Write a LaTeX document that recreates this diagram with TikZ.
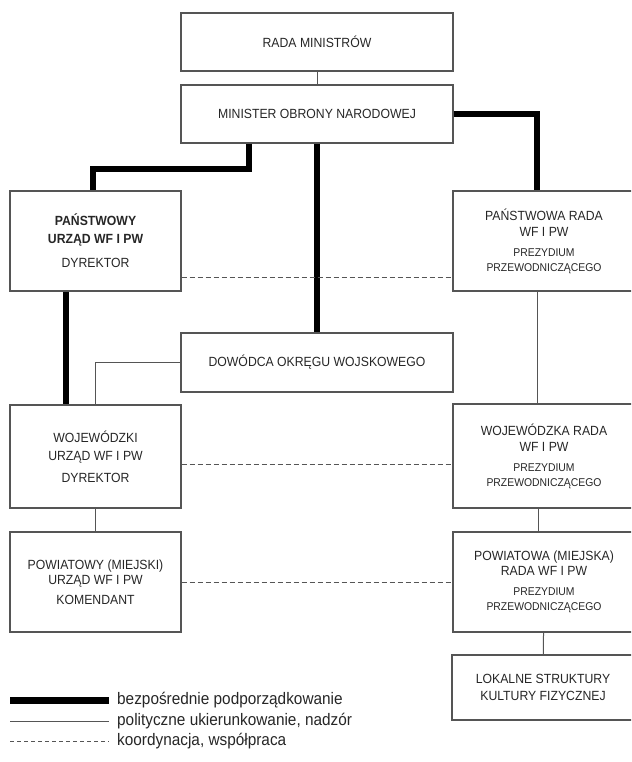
\documentclass[tikz,border=0pt]{standalone}
\usepackage{fontspec}
\setmainfont{Liberation Sans}[FakeStretch=0.92]
\usetikzlibrary{calc}
\definecolor{inkgray}{HTML}{262626}
\definecolor{linegray}{HTML}{555555}
\tikzset{
	unit/.style={draw=linegray, line width=1.1pt, text=inkgray, inner sep=0pt, align=center,
		font=\fontsize{13.3}{16}\selectfont},
	legtext/.style={anchor=west, text=inkgray, inner sep=0pt, font=\fontsize{16.7}{18}\selectfont},
	direct/.style={line width=6pt, black},
	supervise/.style={line width=1pt, linegray},
	coop/.style={line width=0.9pt, linegray, dash pattern=on 5pt off 3pt},
}
\newcommand{\subtxt}[1]{{\fontsize{11.3}{15}\selectfont #1}}

\begin{document}
\begin{tikzpicture}[x=1pt, y=-1pt]
		%%%%% START %%%%%
		\useasboundingbox (0, 0) rectangle (631, 762);
		\clip (0, 0) rectangle (631, 762);
		
		\node[unit, minimum width=272pt, minimum height=58pt] (rada) at (317, 42) {RADA MINISTRÓW};
		\node[unit, minimum width=272pt, minimum height=58pt] (mon) at (317, 114) {MINISTER OBRONY NARODOWEJ};
		
		\node[unit, minimum width=171pt, minimum height=100pt] (purzad) at (95.5, 241)
			{\textbf{PAŃSTWOWY}\\[2pt]\textbf{URZĄD WF I PW}\\[8pt]DYREKTOR};
		\node[unit, minimum width=182pt, minimum height=100pt] (prada) at (544, 241)
			{PAŃSTWOWA RADA\\WF I PW\\[4pt]\subtxt{PREZYDIUM}\\[-1pt]\subtxt{PRZEWODNICZĄCEGO}};
		
		\node[unit, minimum width=272pt, minimum height=59pt] (dowodca) at (317, 362.5) {DOWÓDCA OKRĘGU WOJSKOWEGO};
		
		\node[unit, minimum width=171pt, minimum height=103pt] (wurzad) at (95.5, 456.5)
			{WOJEWÓDZKI\\[2pt]URZĄD WF I PW\\[6pt]DYREKTOR};
		\node[unit, minimum width=182pt, minimum height=104pt] (wrada) at (544, 456)
			{WOJEWÓDZKA RADA\\WF I PW\\[4pt]\subtxt{PREZYDIUM}\\[-1pt]\subtxt{PRZEWODNICZĄCEGO}};
		
		\node[unit, minimum width=171pt, minimum height=100pt] (powurzad) at (95.5, 582)
			{POWIATOWY (MIEJSKI)\\[-1pt]URZĄD WF I PW\\[4pt]KOMENDANT};
		\node[unit, minimum width=182pt, minimum height=100pt] (powrada) at (544, 582)
			{POWIATOWA (MIEJSKA)\\[-1pt]RADA WF I PW\\[4pt]\subtxt{PREZYDIUM}\\[-1pt]\subtxt{PRZEWODNICZĄCEGO}};
		
		\node[unit, minimum width=182pt, minimum height=65pt] (lokalne) at (543, 687.5)
			{LOKALNE STRUKTURY\\[1pt]KULTURY FIZYCZNEJ};
		
		% thin
		\draw[supervise] (rada) -- (mon);
		\draw[supervise] (dowodca.west) -| (wurzad.north);
		\draw[supervise] ([xshift=-7pt]prada.south) -- ([xshift=-7pt]wrada.north);
		\draw[supervise] (wurzad) -- (powurzad);
		\draw[supervise] ([xshift=-6pt]wrada.south) -- ([xshift=-6pt]powrada.north);
		\draw[supervise] (powrada) -- (lokalne);
		
		% thick
		\draw[direct] ([xshift=-68pt]mon.south) -- ++(0, 25) -| ([xshift=-2.5pt]purzad.north);
		\draw[direct] (mon) -- (dowodca);
		\draw[direct] (mon.east) -| ([xshift=-7pt]prada.north);
		\draw[direct] ([xshift=-30pt]purzad.south) -- ([xshift=-30pt]wurzad.north);
		
		% dashed
		\draw[coop] ([yshift=-36pt]purzad.east) -- ([yshift=-36pt]purzad.east -| prada.west);
		\draw[coop] ([yshift=-7.5pt]wurzad.east) -- ([yshift=-7.5pt]wurzad.east -| wrada.west);
		\draw[coop] (powurzad.east) -- (powurzad.east -| powrada.west);
		
		% legend
		\node[legtext] (leg1) at (117, 700) {bezpośrednie podporządkowanie};
		\node[legtext] (leg2) at (117, 721) {polityczne ukierunkowanie, nadzór};
		\node[legtext] (leg3) at (117, 741) {koordynacja, współpraca};
		\coordinate (s1) at (10, 700);
		\coordinate (s2) at (10, 721);
		\coordinate (s3) at (10, 741);
		\draw[direct, line width=7pt] (s1) -- ([xshift=-8pt]leg1.west);
		\draw[supervise] (s2) -- ([xshift=-8pt]leg2.west);
		\draw[coop, dash pattern=on 4pt off 3pt] (s3) -- ([xshift=-8pt]leg3.west);
		
		%%%%% END %%%%%
	\end{tikzpicture}
\end{document}
